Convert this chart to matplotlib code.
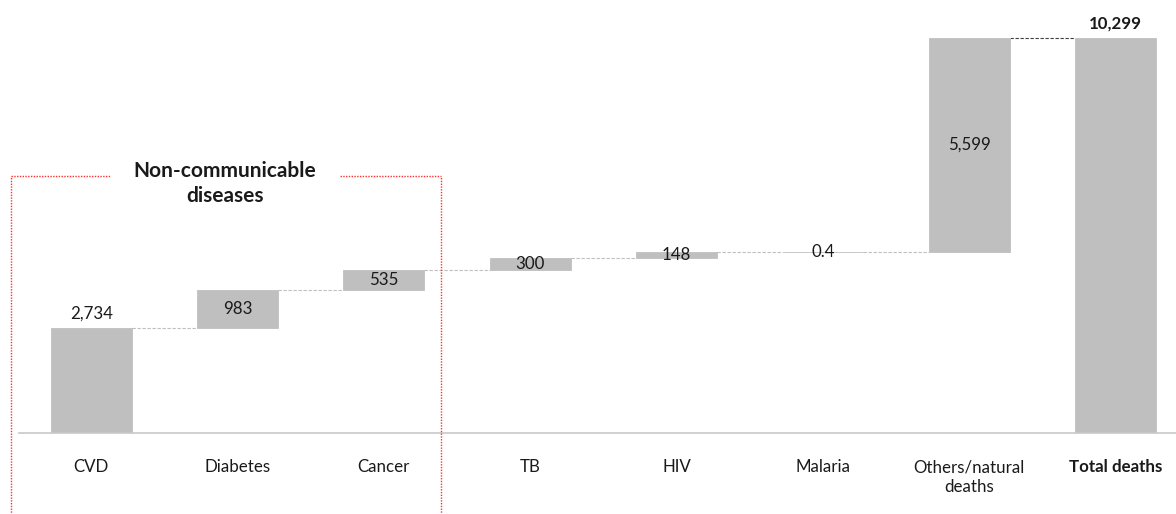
import numpy as np
import matplotlib.pyplot as plt

plt.rcParams['font.family'] = ['Lato', 'DejaVu Sans']

# donnees (milliers de deces)
categories = ['CVD', 'Diabetes', 'Cancer', 'TB', 'HIV', 'Malaria',
              'Others/natural\ndeaths', 'Total deaths']
valeurs = [2734, 983, 535, 300, 148, 0.4, 5599]
total = 10299
etiquettes = ['2,734', '983', '535', '300', '148', '0.4', '5,599', '10,299']
titre_groupe = 'Non-communicable\ndiseases'

GRIS = '#bfbfbf'
TXT = '#1a1a1a'
FS = 12.2

hauteurs = np.array(valeurs + [total], dtype=float)
bas = np.concatenate([[0], np.cumsum(valeurs)[:-1], [0]])
hauts = bas + hauteurs
x = np.arange(len(categories))
w = 0.554

fig = plt.figure(figsize=(11.76, 5.14), dpi=100)
ax = fig.add_axes([19/1176, (514-432.7)/514, 1 - 19/1176, 432.7/514])
ax.bar(x, hauteurs, bottom=bas, width=w, color=GRIS,
       edgecolor=GRIS, linewidth=0.6, zorder=2)

ax.set_xlim((19-91.3)/146.3, (1176-91.3)/146.3)
ax.set_ylim(0, 432.7/0.03835)

# connecteurs
for i in range(len(categories)-1):
    niveau = hauts[i]
    c = '#bfbfbf'
    if i == len(categories)-2:
        c = '#404040'
    ax.plot([x[i]+w/2, x[i+1]-w/2], [niveau, niveau], color=c, lw=0.8,
            ls=(0, (3, 1.5)), zorder=1)

# etiquettes des valeurs
for i, lab in enumerate(etiquettes):
    if i == 0:
        ax.text(x[i], hauts[i] + 150, lab, ha='center', va='bottom',
                fontsize=FS, color=TXT)
    elif i == len(etiquettes)-1:
        ax.text(x[i], hauts[i] + 170, lab, ha='center', va='bottom',
                fontsize=FS, color=TXT, fontweight='bold')
    else:
        ax.text(x[i], bas[i] + hauteurs[i]/2, lab, ha='center',
                va='center', fontsize=FS, color=TXT)

# axe
for s in ['top', 'right', 'left']:
    ax.spines[s].set_visible(False)
ax.spines['bottom'].set_color('#c8c8c8')
ax.spines['bottom'].set_linewidth(1.2)
ax.set_yticks([])
ax.set_xticks(x)
ax.set_xticklabels(categories, fontsize=FS, color=TXT, va='top')
ax.tick_params(axis='x', length=0, pad=19)
ax.get_xticklabels()[-1].set_fontweight('bold')
for t in ax.get_xticklabels():
    t.set_linespacing(1.3)

# cadre rouge pointille
xg, xd = (11-91.3)/146.3, (441-91.3)/146.3
yh = (432.7-176)/0.03835
yb = -(514-432.7)/0.03835 - 50
x1, x2 = (110-91.3)/146.3, (340-91.3)/146.3
stl = dict(color='#ff3030', lw=1.0, ls=(0, (1, 1)), clip_on=False, zorder=3)
ax.plot([xg, xg], [yb, yh], **stl)
ax.plot([xd, xd], [yb, yh], **stl)
ax.plot([xg, x1], [yh, yh], **stl)
ax.plot([x2, xd], [yh, yh], **stl)
ax.text((225-91.3)/146.3, yh - 190, titre_groupe, ha='center', va='center',
        fontsize=15, fontweight='bold', color=TXT, linespacing=1.3)

fig.savefig('out.png', dpi=100)
